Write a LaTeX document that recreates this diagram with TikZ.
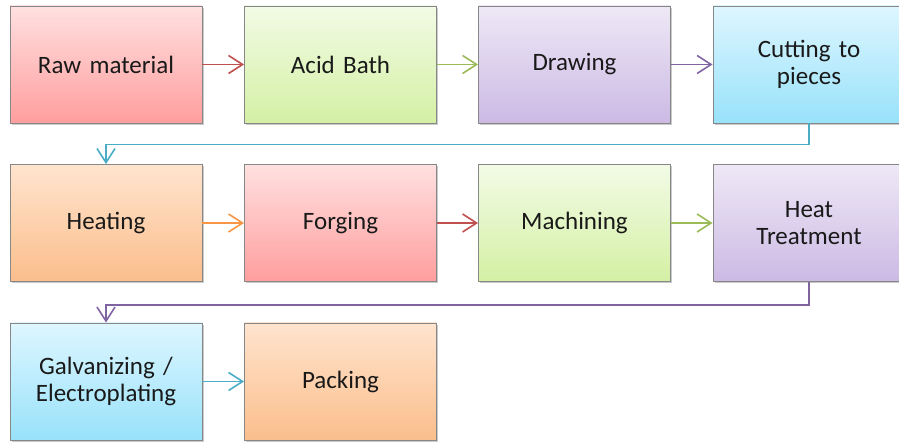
\documentclass[tikz,border=0pt]{standalone}
\usepackage{fontspec}
\setmainfont{Carlito}[WordSpace={0.55,0,0}]
\usetikzlibrary{arrows.meta,shadows}
\definecolor{bordgray}{RGB}{135,135,135}
\definecolor{txt}{RGB}{25,25,25}
\definecolor{redT}{RGB}{255,224,224}\definecolor{redB}{RGB}{255,158,158}
\definecolor{grnT}{RGB}{242,251,230}\definecolor{grnB}{RGB}{212,240,164}
\definecolor{purT}{RGB}{238,232,246}\definecolor{purB}{RGB}{204,186,228}
\definecolor{cyaT}{RGB}{222,246,255}\definecolor{cyaB}{RGB}{152,226,250}
\definecolor{oraT}{RGB}{255,228,206}\definecolor{oraB}{RGB}{251,190,140}
\definecolor{redL}{RGB}{192,80,77}
\definecolor{grnL}{RGB}{155,187,89}
\definecolor{purL}{RGB}{128,100,162}
\definecolor{cyaL}{RGB}{75,172,198}
\definecolor{oraL}{RGB}{247,150,70}
\tikzset{
  box/.style={draw=bordgray, line width=0.9pt, minimum width=192pt, minimum height=117pt,
    inner sep=0pt, align=center, text=txt, text width=185pt,
    font=\fontsize{25}{27}\selectfont,
    drop shadow={shadow xshift=1.5pt, shadow yshift=-1.8pt, opacity=0.35, fill=black!60}},
  redbox/.style={box, top color=redT, bottom color=redB},
  grnbox/.style={box, top color=grnT, bottom color=grnB},
  purbox/.style={box, top color=purT, bottom color=purB},
  cyabox/.style={box, top color=cyaT, bottom color=cyaB},
  orabox/.style={box, top color=oraT, bottom color=oraB},
  conn/.style={line width=1.6pt, -{Straight Barb[length=14pt,width=18pt,line width=1.6pt]}},
}
\begin{document}
\begin{tikzpicture}[x=1pt,y=1pt]
\useasboundingbox (0,0) rectangle (899,443);
\clip (0,0) rectangle (899,443);
\node[redbox] (raw)   at (106,378.5) {Raw material};
\node[grnbox] (acid)  at (340.5,378.5) {Acid Bath};
\node[purbox] (draw)  at (574.5,378.5) {Drawing};
\node[cyabox] (cut)   at (809,378.5) {Cutting to\\pieces};
\node[orabox] (heat)  at (106,220) {Heating};
\node[redbox] (forg)  at (340.5,220) {Forging};
\node[grnbox] (mach)  at (574.5,220) {Machining};
\node[purbox] (treat) at (809,220) {Heat\\Treatment};
\node[cyabox] (galv)  at (106,61.5) {Galvanizing /\\Electroplating};
\node[orabox] (pack)  at (340.5,61.5) {Packing};
\draw[conn, redL] (raw) -- (acid);
\draw[conn, grnL] (acid) -- (draw);
\draw[conn, purL] (draw) -- (cut);
\draw[conn, cyaL] (cut.south) -- ++(0,-21) -| (heat.north);
\draw[conn, oraL] (heat) -- (forg);
\draw[conn, redL] (forg) -- (mach);
\draw[conn, grnL] (mach) -- (treat);
\draw[conn, purL] (treat.south) -- ++(0,-23) -| (galv.north);
\draw[conn, cyaL] (galv) -- (pack);
\end{tikzpicture}
\end{document}
